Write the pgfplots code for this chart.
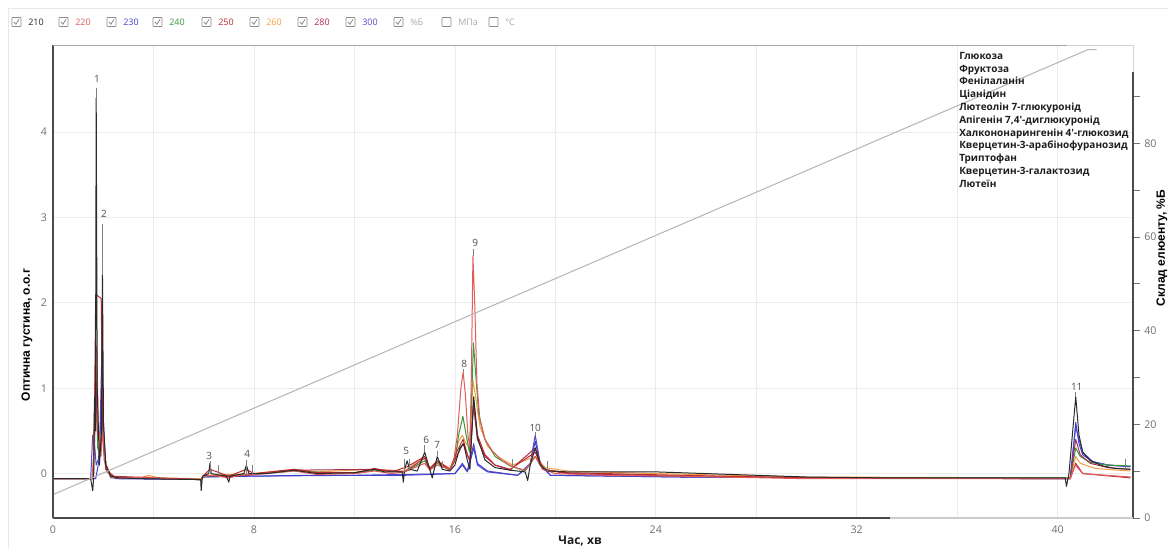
\documentclass[border=0pt]{standalone}
\usepackage{fontspec}
\setmainfont{Open Sans}
\newfontfamily\arialfont{Liberation Sans}
\usepackage{pgfplots}
\pgfplotsset{compat=1.18}
\definecolor{c210}{HTML}{2B2B2B}
\definecolor{c220}{HTML}{E25A5A}
\definecolor{c230}{HTML}{4040D0}
\definecolor{c240}{HTML}{3A9A3A}
\definecolor{c250}{HTML}{C0282D}
\definecolor{c260}{HTML}{F0A040}
\definecolor{c280}{HTML}{A8304E}
\definecolor{c300}{HTML}{5A4AC8}
\definecolor{gradc}{HTML}{B4B4B4}
\definecolor{gridc}{HTML}{ECECEC}
\definecolor{tickc}{HTML}{707070}
\definecolor{labc}{HTML}{505050}
\definecolor{listc}{HTML}{1E1E1E}
\definecolor{cbc}{HTML}{8A8A8A}
\definecolor{lgray}{HTML}{AAAAAA}
\definecolor{axc}{HTML}{4A4A4A}
\def\cb#1#2#3#4{%
  \draw[cbc, line width=0.5pt, rounded corners=0.4pt] (#1pt,368.6pt) rectangle ++(6.75pt,6.75pt);
  \ifnum#4=1 \draw[cbc, line width=0.6pt] (#1pt+1.5pt,372pt) -- (#1pt+2.9pt,370.3pt) -- (#1pt+5.3pt,374pt);\fi
  \node[anchor=west, inner sep=0, font=\fontsize{6.75}{8}\selectfont, text=#3] at (#1pt+12pt,372pt) {#2};}
\begin{document}
\begin{tikzpicture}
\useasboundingbox (-39.75pt,-22.5pt) rectangle (836.25pt,388.5pt);
\fill[white] (-39.75pt,-22.5pt) rectangle (836.25pt,388.5pt);
\draw[gray!18, line width=0.5pt] (-33.75pt,-30pt) -- (-33.75pt,382.5pt) -- (840pt,382.5pt);
\begin{axis}[at={(0,0)}, anchor=south west, scale only axis, width=810pt, height=354.75pt,
  xmin=0, xmax=43, ymin=-0.52, ymax=5.02,
  axis line style={draw=none},
  xtick={0,8,...,40}, minor xtick={4,12,...,36}, ytick={0,1,2,3,4},
  xmajorgrids, xminorgrids, ymajorgrids,
  major grid style={gridc, line width=0.5pt}, minor grid style={gridc, line width=0.5pt},
  tick style={draw=none}, major tick length=2pt, minor tick length=0pt,
  ticklabel style={font=\fontsize{8}{9}\selectfont, text=tickc},
  /pgf/number format/assume math mode=true,
  xticklabel style={yshift=-2pt}, yticklabel style={xshift=-1pt},
  every axis plot/.append style={line width=0.75pt, line join=round, no markers},
]
% 300
\addplot[c300] coordinates {(0,-0.06)(1.5,-0.06)(1.58,0.45)(1.64,0.4)(1.72,0.1)(1.85,0.2)(1.95,1.5)(2.0,0.6)(2.1,0.1)(2.3,-0.05)(5.9,-0.07)(6.0,-0.04)(7.7,-0.02)(8,-0.03)(12,-0.02)(14,-0.01)(16.0,0.0)(16.3,0.12)(16.5,0.03)(16.75,0.35)(16.9,0.12)(17.3,0.03)(18.5,-0.02)(19.0,0.12)(19.2,0.45)(19.4,0.12)(19.8,-0.02)(25,-0.04)(40.5,-0.06)(40.6,0.25)(40.72,0.55)(40.85,0.4)(41.0,0.25)(41.4,0.14)(42,0.1)(42.9,0.08)};
% 230
\addplot[c230] coordinates {(0,-0.06)(1.7,-0.06)(1.8,0.1)(1.9,0.6)(1.97,1.2)(2.03,0.3)(2.15,0.02)(2.5,-0.06)(5.9,-0.07)(6.0,-0.04)(8,-0.03)(10,-0.02)(14,-0.02)(16.0,0.0)(16.3,0.1)(16.5,0.02)(16.75,0.3)(16.9,0.1)(17.3,0.02)(18.5,-0.02)(19.0,0.1)(19.2,0.38)(19.4,0.1)(19.8,-0.02)(25,-0.04)(40.5,-0.06)(40.6,0.2)(40.72,0.6)(40.85,0.35)(41.0,0.22)(41.4,0.14)(42,0.1)(42.9,0.08)};
% 260
\addplot[c260] coordinates {(0,-0.06)(1.6,-0.06)(1.7,1.5)(1.75,0.6)(1.9,0.3)(1.97,0.7)(2.05,0.2)(2.2,0.0)(2.6,-0.05)(3.5,-0.05)(3.8,-0.02)(4.2,-0.05)(5.9,-0.06)(6.0,-0.02)(8,0.0)(9.6,0.05)(10.5,0.02)(12.8,0.05)(14,0.03)(14.8,0.2)(15.0,0.06)(15.3,0.15)(15.8,0.06)(16.0,0.2)(16.15,0.38)(16.3,0.45)(16.45,0.35)(16.6,0.3)(16.72,1.1)(16.85,0.85)(17.0,0.55)(17.3,0.32)(17.7,0.2)(18.3,0.1)(19.2,0.2)(19.6,0.07)(20.5,0.03)(24,0.0)(30,-0.04)(40.5,-0.05)(40.72,0.2)(40.9,0.12)(41.5,0.06)(42.9,0.03)};
% 240
\addplot[c240] coordinates {(0,-0.06)(1.6,-0.06)(1.68,0.6)(1.72,1.0)(1.78,0.3)(1.9,0.2)(1.97,0.6)(2.05,0.15)(2.3,-0.04)(5.9,-0.07)(6.0,-0.03)(8,-0.01)(9.6,0.03)(12,0.0)(12.8,0.04)(14,0.02)(14.8,0.15)(15.0,0.05)(15.3,0.12)(15.8,0.04)(16.0,0.15)(16.15,0.45)(16.32,0.67)(16.45,0.45)(16.58,0.25)(16.67,0.9)(16.74,1.53)(16.82,1.2)(16.95,0.7)(17.2,0.4)(17.6,0.2)(18.2,0.09)(18.8,0.03)(19.2,0.2)(19.5,0.05)(20.5,0.0)(25,-0.03)(30,-0.05)(40.5,-0.05)(40.72,0.3)(40.9,0.2)(41.3,0.13)(42,0.1)(42.9,0.09)};
% 280
\addplot[c280] coordinates {(0,-0.06)(1.6,-0.06)(1.7,1.2)(1.76,0.5)(1.9,0.3)(1.98,0.75)(2.05,0.15)(2.3,-0.03)(5.9,-0.07)(6.0,-0.02)(7.0,-0.04)(8,-0.01)(9.6,0.04)(12.8,0.05)(14,0.02)(14.8,0.18)(15.0,0.05)(15.3,0.14)(15.8,0.04)(16.1,0.22)(16.33,0.35)(16.5,0.22)(16.6,0.15)(16.74,0.8)(16.9,0.4)(17.2,0.2)(17.6,0.1)(18.2,0.04)(19.2,0.3)(19.5,0.05)(20.5,0.0)(25,-0.03)(30,-0.05)(40.5,-0.06)(40.72,0.4)(40.9,0.22)(41.3,0.12)(42,0.07)(42.9,0.05)};
% 250
\addplot[c250] coordinates {(0,-0.06)(1.6,-0.06)(1.67,1.2)(1.7,2.1)(1.92,2.05)(1.96,1.0)(2.02,0.3)(2.1,0.05)(2.5,-0.05)(3.8,-0.05)(5.9,-0.07)(6.0,-0.02)(6.25,0.05)(7.0,-0.03)(7.7,0.05)(8,0.0)(9.6,0.05)(10.5,0.01)(12,0.01)(12.8,0.06)(13.5,0.02)(14.1,0.08)(14.8,0.2)(15.0,0.06)(15.3,0.15)(15.8,0.05)(16.1,0.27)(16.33,0.4)(16.5,0.22)(16.6,0.15)(16.75,0.87)(16.9,0.45)(17.2,0.22)(17.6,0.1)(18.2,0.05)(19.2,0.25)(19.5,0.05)(20.5,0.01)(25,-0.02)(30,-0.05)(40.5,-0.06)(40.72,0.12)(41.0,0.0)(42.9,-0.05)};
% 220
\addplot[c220] coordinates {(0,-0.06)(1.55,-0.06)(1.65,0.3)(1.7,1.5)(1.75,1.45)(1.8,0.6)(1.9,0.2)(2.0,0.5)(2.05,0.15)(2.3,-0.04)(3.0,-0.05)(3.8,-0.04)(4.3,-0.06)(5.9,-0.07)(6.0,-0.03)(6.4,-0.02)(7.0,-0.05)(7.4,-0.02)(8.0,-0.01)(9.6,0.03)(10.5,-0.01)(12.0,0.0)(12.8,0.03)(13.5,0.0)(14.0,0.02)(14.8,0.12)(15.0,0.04)(15.3,0.1)(15.8,0.05)(15.95,0.15)(16.1,0.45)(16.24,1.0)(16.33,1.19)(16.42,0.92)(16.52,0.45)(16.6,0.3)(16.66,1.2)(16.72,2.55)(16.79,2.0)(16.88,1.05)(17.0,0.62)(17.2,0.4)(17.5,0.26)(17.9,0.15)(18.3,0.08)(18.8,0.04)(19.2,0.2)(19.5,0.05)(20,0.0)(22,-0.02)(25,-0.03)(30,-0.06)(40.5,-0.06)(40.7,0.1)(41.0,0.0)(42.9,-0.04)};
% 210
\addplot[c210] coordinates {(0,-0.06)(1.5,-0.06)(1.58,-0.2)(1.62,-0.05)(1.66,0.9)(1.69,0.5)(1.72,4.4)(1.76,1.0)(1.85,0.1)(1.93,0.5)(1.97,2.33)(2.01,0.6)(2.1,0.1)(2.3,-0.03)(2.6,-0.05)(3.5,-0.06)(5.88,-0.07)(5.9,-0.2)(5.95,-0.03)(6.2,0.0)(6.25,0.12)(6.3,0.0)(6.9,-0.03)(7.0,-0.1)(7.05,-0.03)(7.6,0.0)(7.7,0.1)(7.8,0.0)(8.5,0.0)(9.6,0.04)(10.5,0.0)(12.0,0.01)(12.8,0.05)(13.2,0.02)(13.9,0.02)(13.95,-0.1)(14.0,0.05)(14.1,0.15)(14.2,0.05)(14.5,0.03)(14.8,0.25)(15.0,0.05)(15.1,-0.05)(15.3,0.2)(15.5,0.05)(15.8,0.03)(16.0,0.1)(16.2,0.3)(16.35,0.35)(16.5,0.15)(16.6,0.05)(16.75,0.9)(16.9,0.42)(17.2,0.16)(17.6,0.07)(18.2,0.04)(18.8,0.02)(18.9,-0.08)(19.0,0.1)(19.2,0.3)(19.4,0.1)(19.7,0.03)(20.5,0.02)(22,0.02)(24,0.02)(26,0.0)(28,-0.02)(30,-0.04)(33,-0.05)(36,-0.05)(40.3,-0.05)(40.35,-0.15)(40.45,0.0)(40.6,0.5)(40.72,0.9)(40.85,0.45)(41.0,0.25)(41.3,0.15)(41.8,0.09)(42.3,0.06)(42.9,0.05)};
% leader and integration marks
\addplot[gray, line width=0.5pt] coordinates {(1.72,4.4)(1.72,4.52)};
\addplot[gray, line width=0.5pt] coordinates {(1.97,2.33)(1.97,2.92)};
\addplot[gray, line width=0.5pt] coordinates {(6.25,0.0)(6.25,0.15)};
\addplot[gray, line width=0.5pt] coordinates {(6.6,-0.02)(6.6,0.1)};
\addplot[gray, line width=0.5pt] coordinates {(7.7,0.0)(7.7,0.16)};
\addplot[gray, line width=0.5pt] coordinates {(7.95,0.0)(7.95,0.1)};
\addplot[gray, line width=0.5pt] coordinates {(14.0,0.02)(14.0,0.17)};
\addplot[gray, line width=0.5pt] coordinates {(14.2,0.03)(14.2,0.17)};
\addplot[gray, line width=0.5pt] coordinates {(14.8,0.25)(14.8,0.33)};
\addplot[gray, line width=0.5pt] coordinates {(15.3,0.2)(15.3,0.27)};
\addplot[gray, line width=0.5pt] coordinates {(15.5,0.05)(15.5,0.15)};
\addplot[gray, line width=0.5pt] coordinates {(16.33,1.19)(16.33,1.22)};
\addplot[gray, line width=0.5pt] coordinates {(16.72,2.55)(16.72,2.63)};
\addplot[gray, line width=0.5pt] coordinates {(18.3,0.05)(18.3,0.17)};
\addplot[gray, line width=0.5pt] coordinates {(19.2,0.45)(19.2,0.49)};
\addplot[gray, line width=0.5pt] coordinates {(19.7,0.03)(19.7,0.15)};
\addplot[gray, line width=0.5pt] coordinates {(40.72,0.9)(40.72,0.95)};
\addplot[gray, line width=0.5pt] coordinates {(42.7,0.05)(42.7,0.17)};
\begin{scope}[every node/.style={font=\fontsize{7.5}{9}\selectfont, text=labc, inner sep=0}]
\node at (axis cs:1.75,4.62) {1};
\node at (axis cs:2.03,3.04) {2};
\node at (axis cs:6.22,0.21) {3};
\node at (axis cs:7.73,0.23) {4};
\node at (axis cs:14.06,0.26) {5};
\node at (axis cs:14.86,0.40) {6};
\node at (axis cs:15.30,0.33) {7};
\node at (axis cs:16.37,1.29) {8};
\node at (axis cs:16.81,2.70) {9};
\node at (axis cs:19.20,0.54) {10};
\node at (axis cs:40.76,1.01) {11};
\end{scope}
\end{axis}
\begin{axis}[at={(0,0)}, anchor=south west, scale only axis, width=810pt, height=354.75pt,
  xmin=0, xmax=43, ymin=0, ymax=101,
  axis x line=none, axis y line*=right, y axis line style={draw=none},
  ytick={0,20,...,80}, minor ytick={10,30,...,90},
  tick align=outside, major tick length=5pt, minor tick length=5pt,
  tick style={tickc, line width=0.5pt},
  yticklabel style={font=\fontsize{8}{9}\selectfont, text=tickc},
  /pgf/number format/assume math mode=true,
]
\addplot[gradc, line width=0.75pt, no markers] coordinates {(0,5)(41.2,100)(41.55,100)};
\end{axis}
% frame
\draw[axc, line width=1.1pt] (0,0) -- (0,354.75pt);
\draw[gray!70, line width=0.6pt] (0,354.75pt) -- (760.5pt,354.75pt);
\draw[gray!35, line width=0.6pt] (760.5pt,354.75pt) -- (810pt,354.75pt) -- (810pt,334.5pt);
\draw[axc, line width=1.1pt] (810pt,334.5pt) -- (810pt,0);
\draw[axc, line width=1.1pt] (0,0) -- (627.75pt,0);
\draw[gray!40, line width=0.9pt] (627.75pt,0) -- (810pt,0);
% labels
\node[font=\fontsize{9}{10}\selectfont\bfseries, text=listc, anchor=base, inner sep=0] at (395.25pt,-19.8pt) {Час, хв};
\node[font=\arialfont\fontsize{9}{10}\selectfont\bfseries, text=black, rotate=90, inner sep=0] at (-19.5pt,137.25pt) {Оптична густина, о.о.г};
\node[font=\arialfont\fontsize{9}{10}\selectfont\bfseries, text=black, rotate=90, inner sep=0] at (831.75pt,202.5pt) {Склад елюенту, \%Б};
\node[anchor=north west, inner sep=0, align=left, font=\fontsize{7.5}{9.6}\selectfont\bfseries, text=listc] at (679.5pt,349.5pt)
 {Глюкоза\\Фруктоза\\Фенілаланін\\Ціанідин\\Лютеолін 7-глюкуронід\\Апігенін 7,4′-диглюкуронід\\Халкононарингенін 4′-глюкозид\\Кверцетин-3-арабінофуранозид\\Триптофан\\Кверцетин-3-галактозид\\Лютеїн};
% top toggles
\cb{-30.75}{210}{c210}{1}
\cb{4.5}{220}{c220}{1}
\cb{40.5}{230}{c230}{1}
\cb{75}{240}{c240}{1}
\cb{111.75}{250}{c250}{1}
\cb{147.75}{260}{c260}{1}
\cb{183.75}{280}{c280}{1}
\cb{219.75}{300}{c300}{1}
\cb{255.75}{\%Б}{lgray}{1}
\cb{291.75}{МПа}{lgray}{0}
\cb{327}{°C}{lgray}{0}
\end{tikzpicture}
\end{document}
